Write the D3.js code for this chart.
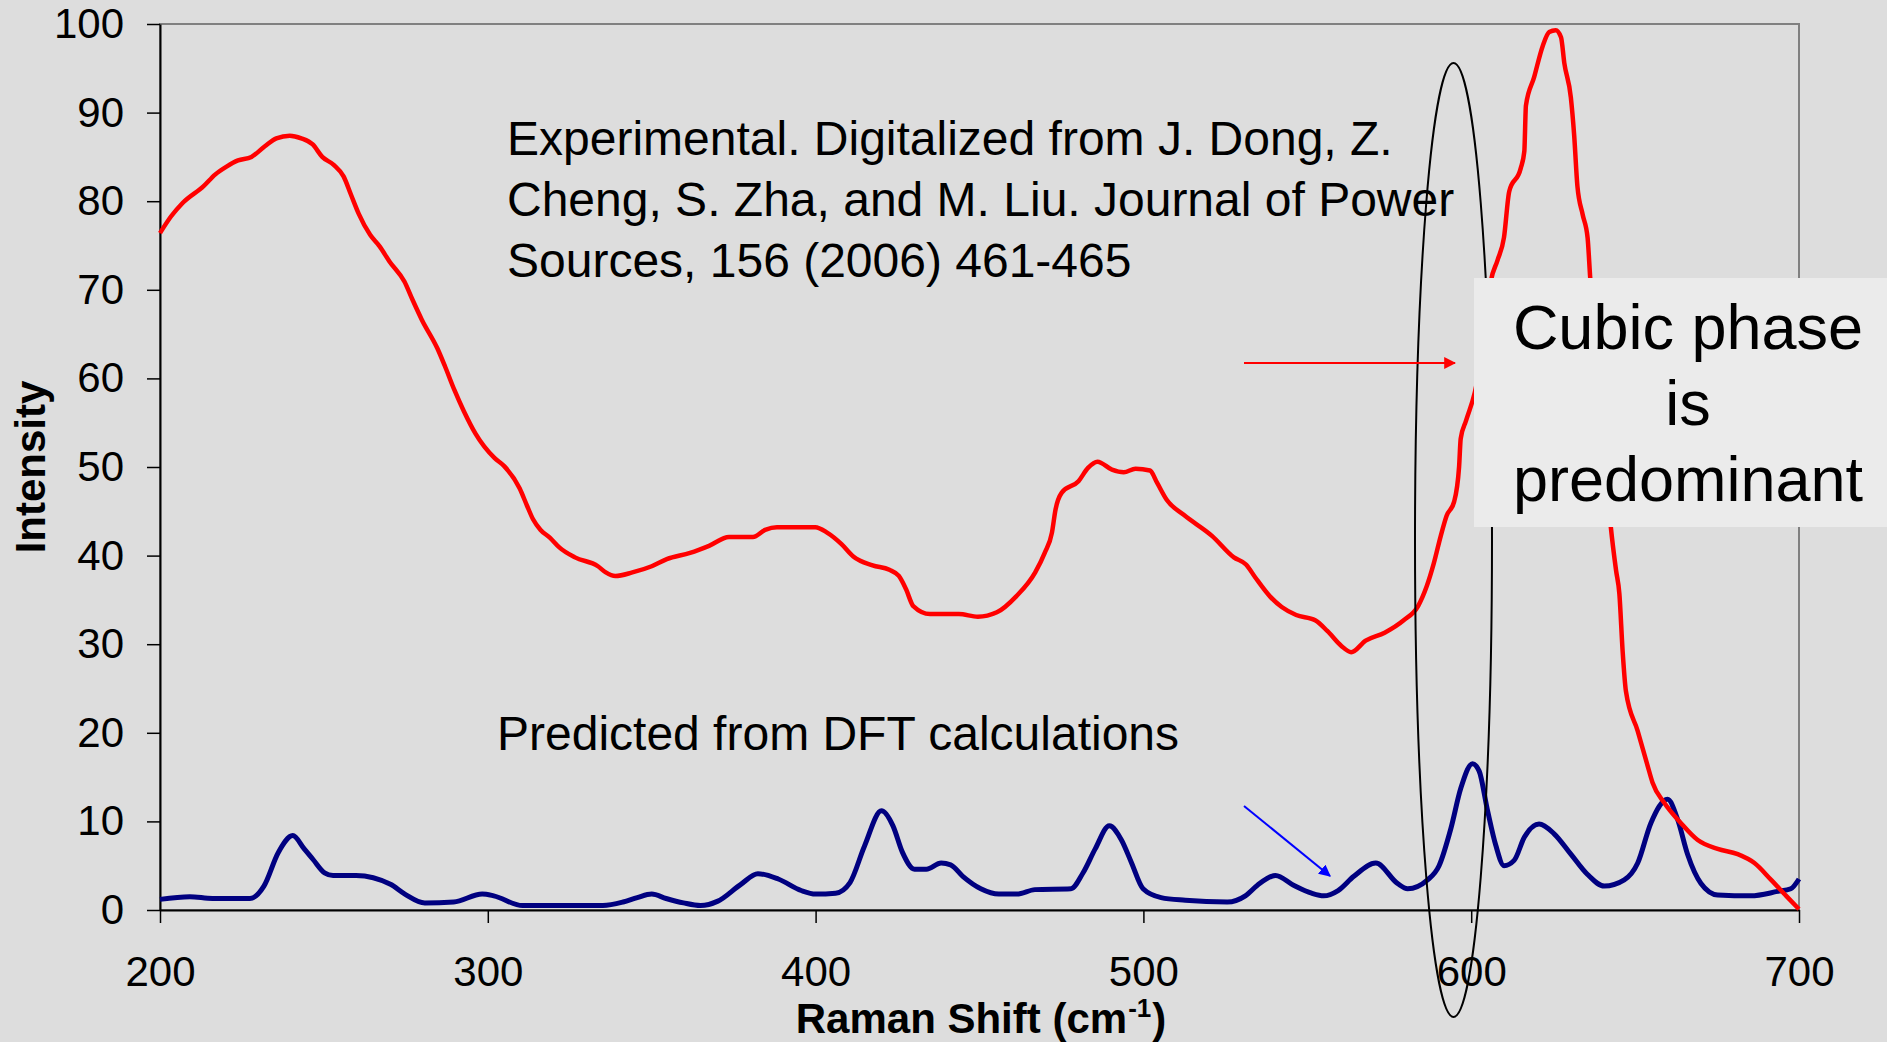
<!DOCTYPE html>
<html>
<head>
<meta charset="utf-8">
<script src="https://cdn.jsdelivr.net/npm/d3@7"></script>
<style>
  html, body { margin: 0; padding: 0; background: #dddddd; }
  svg { display: block; font-family: "Liberation Sans", Arial, sans-serif; }
</style>
</head>
<body>
<div id="chart"></div>
<script>
// experimental spectrum (red)
const shiftExp = [200, 203.4, 206.9, 213.3, 216.8, 220.3, 223.8, 227.9, 232, 235.5, 239.6, 243.1, 246.6, 249.5, 253, 256, 258.3, 260.6, 264.1, 267, 270, 274.6, 277, 279.9, 284.6, 286.9, 289.8, 292.7, 296.2, 302.1, 305, 309.7, 312, 313.8, 316.1, 319, 321.9, 326.6, 333.6, 336, 338.9, 344.1, 350, 354.6, 361.7, 367.5, 373.6, 380.9, 384.6, 388.2, 399.9, 403.5, 407.9, 411.5, 417.4, 422.5, 425.4, 427.6, 429.8, 434.9, 443.7, 449.5, 455.3, 461.2, 467, 469.9, 472.1, 473.2, 475.1, 480.2, 483.1, 486, 490.4, 494, 497.6, 502, 504.2, 507.1, 512.3, 521, 527.6, 531.3, 534.2, 538.6, 542.2, 546.6, 552.4, 556.1, 560.4, 563.4, 567.8, 573.6, 579.4, 583.8, 586.4, 588.5, 590.7, 592.5, 594.8, 596.3, 596.8, 598.4, 601.1, 603.5, 606, 608, 610, 611.6, 615.1, 616.2, 616.7, 619.2, 621.8, 623.8, 625.8, 627.4, 628.4, 630.4, 631.4, 632.4, 634, 635.5, 636.3, 638, 640, 642.6, 644.2, 645.2, 646.2, 647.2, 650.8, 653.8, 655.3, 658.9, 664, 669.1, 675.2, 681.3, 686.4, 691.5, 696.6, 700];
const intensityExp = [76.4, 78.3, 79.8, 81.7, 83.0, 83.9, 84.6, 85.0, 86.2, 87.1, 87.4, 87.1, 86.4, 85.0, 84.1, 82.8, 80.7, 78.6, 76.2, 74.9, 73.2, 70.9, 68.9, 66.6, 63.4, 61.4, 58.7, 56.3, 53.8, 51.0, 50.1, 47.6, 45.6, 44.1, 42.9, 42.0, 40.9, 39.8, 38.8, 38.1, 37.7, 38.1, 38.8, 39.6, 40.3, 41.1, 42.1, 42.1, 42.9, 43.2, 43.2, 42.6, 41.3, 39.9, 38.9, 38.4, 37.7, 36.2, 34.3, 33.4, 33.4, 33.1, 33.6, 35.4, 38.1, 40.3, 42.6, 45.2, 47.1, 48.4, 49.9, 50.6, 49.7, 49.4, 49.8, 49.6, 48.2, 46.3, 44.6, 42.2, 39.8, 39.0, 37.5, 35.4, 34.2, 33.3, 32.7, 31.5, 29.8, 29.1, 30.4, 31.3, 32.7, 34.3, 36.5, 39.0, 42.2, 44.5, 46.1, 50.0, 53.2, 55.2, 58.4, 63, 71.0, 73.3, 75.9, 81.1, 83.7, 85.6, 90.8, 94.0, 97.5, 99.1, 99.3, 98.5, 95.6, 91.7, 87.5, 81.7, 78.5, 75.9, 71.4, 64, 55, 43.2, 38.3, 35.7, 29.2, 24.7, 20.2, 16.3, 14.4, 12.1, 9.8, 7.9, 6.9, 6.3, 5.3, 3.4, 1.4, 0.1];

// DFT predicted spectrum (navy)
const shiftDft = [200, 209.1, 216, 227.4, 231.7, 236.1, 240.5, 244, 246.7, 250.2, 252.8, 259.8, 270.3, 274.7, 280.8, 289.6, 298.3, 301.8, 310.6, 335.1, 341.3, 345.6, 350, 354.4, 359.7, 364.9, 370.2, 377.2, 382.4, 388.6, 395.6, 400, 406.1, 410.5, 414.9, 420.1, 423.6, 426.5, 430.2, 433.8, 438.3, 441.2, 444.9, 450.4, 455.9, 461.4, 466.9, 477.9, 481.6, 485.3, 489.6, 493.3, 496.3, 499.9, 505.4, 512.8, 525.6, 531.1, 534.8, 540.3, 545.8, 551.3, 555, 559.4, 564.2, 570.9, 577.5, 580.6, 586.7, 590.2, 593.8, 596.8, 600.4, 602.4, 605, 607.5, 610, 613.1, 616.2, 620.7, 625.3, 630.4, 635.5, 640.6, 646.7, 650.8, 654.8, 659.9, 663, 666, 670.1, 675.2, 685.3, 693.5, 697.5, 700];
const intensityDft = [1.2, 1.5, 1.3, 1.3, 2.7, 6.5, 8.4, 6.9, 5.7, 4.2, 3.9, 3.9, 2.9, 1.8, 0.8, 0.9, 1.8, 1.6, 0.5, 0.5, 0.9, 1.4, 1.8, 1.3, 0.8, 0.5, 1.0, 2.9, 4.1, 3.5, 2.2, 1.8, 1.9, 3.1, 7.2, 11.2, 9.5, 6.5, 4.6, 4.6, 5.3, 5.1, 3.8, 2.4, 1.8, 1.8, 2.3, 2.4, 4.2, 6.9, 9.5, 7.9, 5.4, 2.4, 1.4, 1.1, 0.9, 1.6, 2.8, 3.9, 2.8, 1.9, 1.6, 2.2, 3.8, 5.3, 3.0, 2.4, 3.4, 5.0, 9.2, 13.7, 16.5, 15.7, 11.2, 7.3, 5.0, 5.6, 8.2, 9.7, 8.6, 6.3, 4.0, 2.7, 3.4, 5.3, 9.8, 12.5, 10.2, 6.3, 3.0, 1.7, 1.6, 2.1, 2.4, 3.5];

const xTicks = [200, 300, 400, 500, 600, 700];
const yTicks = [0, 10, 20, 30, 40, 50, 60, 70, 80, 90, 100];

const refText = ['Experimental. Digitalized from J. Dong, Z.',
                 'Cheng, S. Zha, and M. Liu. Journal of Power',
                 'Sources, 156 (2006) 461-465'];
const boxText = ['Cubic phase', 'is', 'predominant'];

const width = 1887, height = 1042;
const plot = {left: 160, right: 1799, top: 24, bottom: 910};

const svg = d3.select('#chart').append('svg')
    .attr('width', width)
    .attr('height', height);

svg.append('rect')
    .attr('width', width).attr('height', height)
    .attr('fill', '#dddddd');

const x = d3.scaleLinear().domain([200, 700]).range([plot.left, plot.right]);
const y = d3.scaleLinear().domain([0, 100]).range([plot.bottom, plot.top]);

// plot frame (top and right are grey)
svg.append('rect')
    .attr('x', plot.left).attr('y', plot.top)
    .attr('width', plot.right - plot.left).attr('height', plot.bottom - plot.top)
    .attr('fill', 'none').attr('stroke', '#808080').attr('stroke-width', 2);

// axes
const yAxis = svg.append('g')
    .attr('transform', 'translate(' + plot.left + ',0)')
    .call(d3.axisLeft(y).tickValues(yTicks).tickSize(13).tickSizeOuter(0).tickPadding(23));
const xAxis = svg.append('g')
    .attr('transform', 'translate(0,' + plot.bottom + ')')
    .call(d3.axisBottom(x).tickValues(xTicks).tickSize(13).tickSizeOuter(0).tickPadding(33));
[xAxis, yAxis].forEach(function(a){
    a.select('.domain').attr('stroke', '#000').attr('stroke-width', 2);
    a.selectAll('.tick line').attr('stroke', '#000').attr('stroke-width', 1.5);
    a.selectAll('.tick text')
        .attr('fill', '#000')
        .style('font-size', '42px')
        .style('font-family', '"Liberation Sans", Arial, sans-serif');
});

// axis titles
svg.append('text')
    .attr('transform', 'rotate(-90)')
    .attr('x', -467).attr('y', 45)
    .attr('text-anchor', 'middle')
    .style('font-size', '42px').style('font-weight', 'bold')
    .text('Intensity');

// x title: main part, superscript and closing bracket as separate texts
const xtMain = svg.append('text')
    .attr('y', 1033)
    .style('font-size', '42px').style('font-weight', 'bold')
    .text('Raman Shift (cm');
const xtSup = svg.append('text')
    .attr('y', 1017)
    .style('font-size', '26px').style('font-weight', 'bold')
    .text('-1');
const xtEnd = svg.append('text')
    .attr('y', 1033)
    .style('font-size', '42px').style('font-weight', 'bold')
    .text(')');
const wMain = xtMain.node().getComputedTextLength(),
      wSup = xtSup.node().getComputedTextLength(),
      wEnd = xtEnd.node().getComputedTextLength(),
      xStart = 980 - (wMain + wSup + wEnd) / 2;
xtMain.attr('x', xStart);
xtSup.attr('x', xStart + wMain + 1);
xtEnd.attr('x', xStart + wMain + wSup + 2);

// curves
const line = d3.line()
    .x(d => x(d[0]))
    .y(d => y(d[1]))
    .curve(d3.curveMonotoneX);

svg.append('path')
    .datum(d3.zip(shiftDft, intensityDft))
    .attr('d', line)
    .attr('fill', 'none')
    .attr('stroke', '#000080')
    .attr('stroke-width', 5)
    .attr('stroke-linejoin', 'round');

svg.append('path')
    .datum(d3.zip(shiftExp, intensityExp))
    .attr('d', line)
    .attr('fill', 'none')
    .attr('stroke', '#ff0000')
    .attr('stroke-width', 4.5)
    .attr('stroke-linejoin', 'round');

// ellipse round the 600 cm-1 region
svg.append('ellipse')
    .attr('cx', x(594.6)).attr('cy', 540)
    .attr('rx', 38.5).attr('ry', 477)
    .attr('fill', 'none').attr('stroke', '#000').attr('stroke-width', 2);

// annotations
svg.append('g').selectAll('text')
    .data(refText)
    .join('text')
    .attr('x', 507)
    .attr('y', (d, i) => 155 + i * 61)
    .style('font-size', '48px')
    .text(d => d);

svg.append('text')
    .attr('x', 497).attr('y', 750)
    .style('font-size', '48px')
    .text('Predicted from DFT calculations');

// arrows
const defs = svg.append('defs');
[['arRed', '#ff0000'], ['arBlue', '#0000ff']].forEach(function(m){
    defs.append('marker')
        .attr('id', m[0])
        .attr('viewBox', '0 0 10 10')
        .attr('refX', 9).attr('refY', 5)
        .attr('markerWidth', 6).attr('markerHeight', 6)
        .attr('orient', 'auto')
      .append('path')
        .attr('d', 'M0,0 L10,5 L0,10 z')
        .attr('fill', m[1]);
});
svg.append('line')
    .attr('x1', 1244).attr('y1', 363).attr('x2', 1455).attr('y2', 363)
    .attr('stroke', '#ff0000').attr('stroke-width', 2)
    .attr('marker-end', 'url(#arRed)');
svg.append('line')
    .attr('x1', 1244).attr('y1', 806).attr('x2', 1330).attr('y2', 876)
    .attr('stroke', '#0000ff').attr('stroke-width', 2)
    .attr('marker-end', 'url(#arBlue)');

// callout box
svg.append('rect')
    .attr('x', 1474).attr('y', 278)
    .attr('width', 430).attr('height', 249)
    .attr('fill', '#ebebeb');
svg.append('g').selectAll('text')
    .data(boxText)
    .join('text')
    .attr('x', 1688)
    .attr('y', (d, i) => 349 + i * 76)
    .attr('text-anchor', 'middle')
    .style('font-size', '63px')
    .text(d => d);
</script>
</body>
</html>
